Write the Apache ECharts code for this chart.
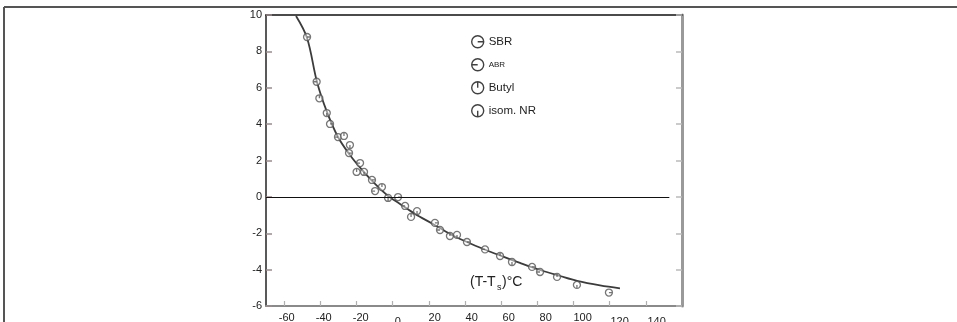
<!DOCTYPE html>
<html>
<head>
<meta charset="utf-8">
<script src="https://cdn.jsdelivr.net/npm/echarts@6/dist/echarts.min.js"></script>
<style>
html,body{margin:0;padding:0;background:#fff;}
#chart{width:957px;height:322px;}
</style>
</head>
<body>
<div id="chart"></div>
<script>
// ---- data ----
const xTicks = [-60, -40, -20, 0, 20, 40, 60, 80, 100, 120, 140];
const yTicks = [-6, -4, -2, 0, 2, 4, 6, 8, 10];
const seriesNames = ['SBR', 'ABR', 'Butyl', 'isom. NR'];
const curveT = [-53.4, -47.3, -41.8, -36.3, -30.2, -23.6, -16.9, -9.7, -2.5, 4.1, 12.4, 22.3, 31.7, 41.1, 51.6, 59.4, 70.4, 81.5, 92.5, 102.0, 114.7, 125.7];
const curveY = [9.95, 8.74, 6.32, 4.67, 3.29, 2.30, 1.48, 0.71, 0.05, -0.39, -0.94, -1.49, -2.04, -2.48, -2.92, -3.22, -3.63, -4.02, -4.35, -4.62, -4.87, -5.03];
const sbr = [[-47.3, 8.79], [-34.6, 4.01], [-24.1, 2.41], [-11.4, 0.93], [3.0, -0.01], [23.4, -1.43], [41.1, -2.48], [77.1, -3.85], [119.6, -5.26]];
const abr = [[-42.0, 6.33], [-30.2, 3.29], [-18.0, 1.86], [-9.7, 0.32], [6.9, -0.50], [26.2, -1.82], [51.1, -2.89], [81.5, -4.13]];
const butyl = [[-40.5, 5.42], [-26.9, 3.35], [-19.9, 1.37], [-5.9, 0.54], [10.2, -1.10], [31.7, -2.15], [59.4, -3.25], [90.9, -4.40]];
const isomNR = [[-36.4, 4.61], [-23.6, 2.85], [-15.8, 1.37], [-2.5, -0.06], [13.5, -0.78], [35.6, -2.09], [66.0, -3.58], [101.9, -4.84]];
const zeroLine = 0;

// ---- styling ----
const FONT = '"Liberation Sans", Arial, sans-serif';
const circ = 'M0,-10 A10,10 0 1,1 0,10 A10,10 0 1,1 0,-10 Z ';
const symbols = [
  'path://' + circ + 'M0,0 L10,0',   // SBR: tick to right
  'path://' + circ + 'M0,0 L-10,0',  // ABR: tick to left
  'path://' + circ + 'M0,0 L0,-10',  // Butyl: tick up
  'path://' + circ + 'M0,0 L0,10'    // isom. NR: tick down
];
const pointSets = [sbr, abr, butyl, isomNR];

const curve = curveT.map((t, i) => [t, curveY[i]]);

const scatterSeries = seriesNames.map((name, i) => ({
  name: name,
  type: 'scatter',
  xAxisIndex: 0,
  yAxisIndex: 0,
  symbol: symbols[i],
  symbolKeepAspect: true,
  symbolSize: 7,
  z: 3,
  itemStyle: { color: 'rgba(255,255,255,0.6)', borderColor: '#555555', borderWidth: 1.3 },
  data: pointSets[i]
}));

const chart = echarts.init(document.getElementById('chart'), null, { renderer: 'canvas' });
chart.setOption({
  animation: false,
  backgroundColor: '#ffffff',
  textStyle: { fontFamily: FONT },
  grid: { left: 266, right: 275, top: 15, bottom: 16, containLabel: false, outerBoundsMode: 'none' },
  legend: {
    orient: 'vertical',
    left: 466,
    top: 30,
    itemWidth: 12,
    itemHeight: 12,
    itemGap: 9.6,
    selectedMode: false,
    data: seriesNames,
    itemStyle: { color: '#ffffff', borderColor: '#111', borderWidth: 1.4 },
    textStyle: { fontFamily: FONT, fontSize: 11.5, color: '#222', lineHeight: 12, rich: { s: { fontSize: 8, color: '#222' } } },
    formatter: function (n) { return n === 'ABR' ? '{s|' + n + '}' : n; }
  },
  xAxis: [
    {
      type: 'value', position: 'bottom', min: -70, max: 160,
      axisLine: { show: true, onZero: false, lineStyle: { color: '#8a8a8a', width: 2 } },
      axisTick: { show: true, inside: true, length: 5, customValues: xTicks, lineStyle: { color: '#b0b0b0', width: 1.2 } },
      axisLabel: { show: false },
      splitLine: { show: false }
    },
    {
      type: 'value', position: 'bottom', min: -71.2, max: 153.7,
      axisLine: { show: false, onZero: false },
      axisTick: { show: false },
      axisLabel: {
        show: true, customValues: xTicks, margin: 6,
        fontFamily: FONT, fontSize: 11, color: '#222',
        formatter: function (v) { return (v === 0 || v >= 120) ? '{lo|' + v + '}' : '{n|' + v + '}'; },
        rich: { lo: { fontSize: 11, color: '#222', padding: [4, 0, 0, 0] }, n: { fontSize: 11, color: '#222' } }
      },
      splitLine: { show: false }
    },
    {
      type: 'value', position: 'top', min: -70, max: 160,
      axisLine: { show: true, onZero: false, lineStyle: { color: '#111', width: 1.5 } },
      axisTick: { show: false },
      axisLabel: { show: false },
      splitLine: { show: false }
    }
  ],
  yAxis: [
    {
      type: 'value', position: 'left', min: -6, max: 10, interval: 2,
      axisLine: { show: true, onZero: false, lineStyle: { color: '#222', width: 1.5 } },
      axisTick: { show: true, inside: true, length: 6, lineStyle: { color: '#9a8a8a', width: 1.5 } },
      axisLabel: { show: true, margin: 4, fontFamily: FONT, fontSize: 11, color: '#222' },
      splitLine: { show: false }
    },
    {
      type: 'value', position: 'right', min: -6, max: 10, interval: 2,
      axisLine: { show: true, onZero: false, lineStyle: { color: '#9a9a9a', width: 3 } },
      axisTick: { show: true, inside: true, length: 6, lineStyle: { color: '#bbbbbb', width: 1.5 } },
      axisLabel: { show: false },
      splitLine: { show: false }
    }
  ],
  series: [
    {
      name: 'curve',
      type: 'line',
      xAxisIndex: 0,
      yAxisIndex: 0,
      data: curve,
      smooth: 0.35,
      showSymbol: false,
      symbol: 'none',
      z: 2,
      lineStyle: { color: '#3c3c3c', width: 1.8 },
      markLine: {
        silent: true,
        symbol: 'none',
        label: { show: false },
        lineStyle: { color: '#111', width: 1, type: 'solid' },
        data: [[{ coord: [-70, zeroLine] }, { coord: [153, zeroLine] }]]
      }
    }
  ].concat(scatterSeries),
  graphic: [
    { type: 'line', shape: { x1: 4, y1: 7, x2: 957, y2: 7 }, style: { stroke: '#555', lineWidth: 2 }, z: 10 },
    { type: 'line', shape: { x1: 4, y1: 7, x2: 4, y2: 322 }, style: { stroke: '#555', lineWidth: 2 }, z: 10 },
    {
      type: 'group', x: 470, y: 275, z: 20,
      children: [
        { type: 'rect', shape: { x: -4, y: -1, width: 105, height: 22 }, style: { fill: '#ffffff' } },
        { type: 'text', x: 0, y: 0, style: { text: '(T-T', font: '14px ' + FONT, fill: '#222', textVerticalAlign: 'top' } },
        { type: 'text', x: 27, y: 8, style: { text: 's', font: '9px ' + FONT, fill: '#222', textVerticalAlign: 'top' } },
        { type: 'text', x: 32, y: 0, style: { text: ')°C', font: '14px ' + FONT, fill: '#222', textVerticalAlign: 'top' } }
      ]
    }
  ]
});
</script>
</body>
</html>
